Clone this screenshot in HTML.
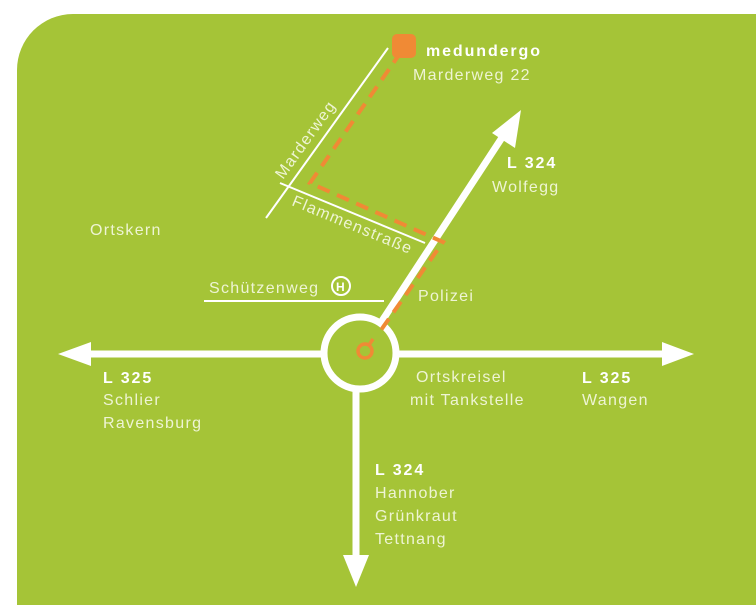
<!DOCTYPE html>
<html><head><meta charset="utf-8"><style>
html,body{margin:0;padding:0;background:#fff;}
svg{display:block;}
text{font-family:"Liberation Sans","DejaVu Sans",sans-serif;font-size:16px;fill:#eef4d4;letter-spacing:1.3px;}
.b{font-weight:bold;fill:#fff;letter-spacing:1.9px;}
</style></head><body>
<svg width="756" height="605" viewBox="0 0 756 605" xmlns="http://www.w3.org/2000/svg">
<path d="M17 605 V70 A56 56 0 0 1 73 14 H756 V605 Z" fill="#a5c437"/>
<g stroke="#fff" stroke-width="2" fill="none">
<line x1="388" y1="48" x2="266" y2="218"/>
<line x1="280" y1="183" x2="425" y2="243"/>
<line x1="204" y1="301" x2="384" y2="301"/>
<circle cx="341" cy="286" r="9"/>
</g>
<text x="336" y="291" style="font-size:12px;font-weight:bold;fill:#fff;letter-spacing:0">H</text>
<g stroke="#fff" stroke-width="7" fill="none">
<line x1="85" y1="354" x2="324" y2="354"/>
<line x1="396" y1="354" x2="668" y2="354"/>
<line x1="356" y1="390" x2="356" y2="560"/>
<line x1="380" y1="324" x2="505" y2="133"/>
<circle cx="360" cy="353" r="36"/>
</g>
<g fill="#fff">
<polygon points="58,354 91,342 91,366"/>
<polygon points="694,354 662,342 662,366"/>
<polygon points="356,587 343,555 369,555"/>
<polygon points="521,110 492,133 515,148"/>
</g>
<g stroke="#f08a35" stroke-width="4" fill="none" stroke-dasharray="13,8">
<polyline points="401,52 310,183 443,242 381,330"/>
</g>
<rect x="392" y="34" width="24" height="24" rx="5" fill="#f08a35"/>
<circle cx="365" cy="351" r="7" stroke="#f08a35" stroke-width="3.5" fill="none"/>
<line x1="369" y1="345" x2="373" y2="339" stroke="#f08a35" stroke-width="3.5"/>
<text class="b" x="426" y="56">medundergo</text>
<text x="413" y="80">Marderweg 22</text>
<text class="b" x="507" y="168">L 324</text>
<text x="492" y="192">Wolfegg</text>
<text x="90" y="235">Ortskern</text>
<text x="209" y="293">Schützenweg</text>
<text x="418" y="301">Polizei</text>
<text transform="translate(283,180) rotate(-54.3)">Marderweg</text>
<text transform="translate(291,205) rotate(22.5)">Flammenstraße</text>
<text class="b" x="103" y="383">L 325</text>
<text x="103" y="405">Schlier</text>
<text x="103" y="428">Ravensburg</text>
<text x="416" y="382">Ortskreisel</text>
<text x="410" y="405">mit Tankstelle</text>
<text class="b" x="582" y="383">L 325</text>
<text x="582" y="405">Wangen</text>
<text class="b" x="375" y="475">L 324</text>
<text x="375" y="498">Hannober</text>
<text x="375" y="521">Grünkraut</text>
<text x="375" y="544">Tettnang</text>
</svg>
</body></html>
